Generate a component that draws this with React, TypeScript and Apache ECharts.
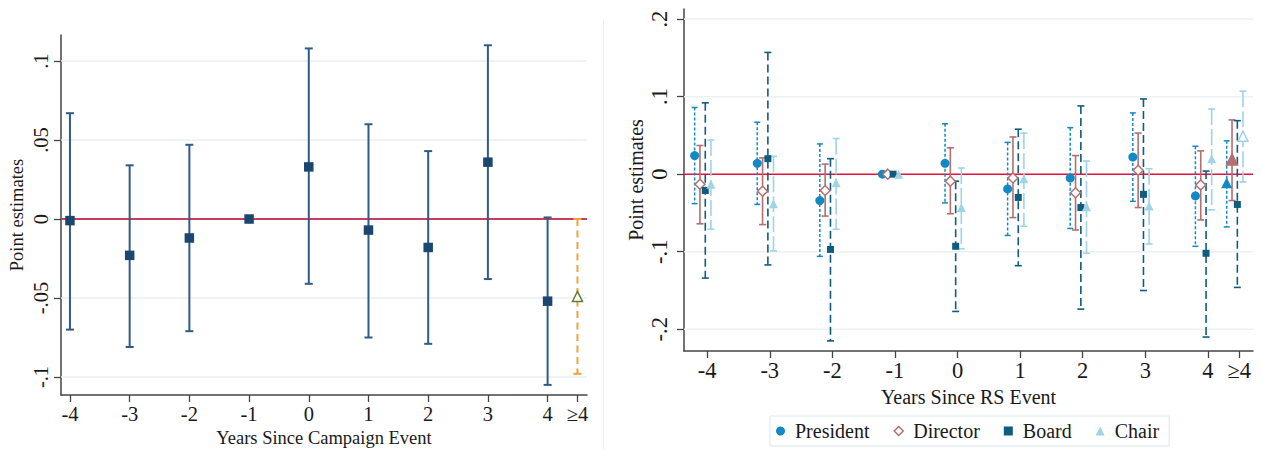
import React, { useEffect, useRef } from "react";
import * as echarts from "echarts";

// ---------- Left panel: Years Since Campaign Event ----------
const leftYears = [-4, -3, -2, -1, 0, 1, 2, 3, 4];
const leftEst = [-0.001, -0.023, -0.012, 0, 0.033, -0.007, -0.018, 0.036, -0.052];
const leftLow = [-0.070, -0.081, -0.071, null, -0.041, -0.075, -0.079, -0.038, -0.105];
const leftHigh = [0.067, 0.034, 0.047, null, 0.108, 0.060, 0.043, 0.110, 0.001];
const leftTailPos = [4.5];
const leftTailEst = [-0.049];
const leftTailLow = [-0.098];
const leftTailHigh = [0.0];
const leftXTicks = [-4, -3, -2, -1, 0, 1, 2, 3, 4, 4.5];
const leftXLabels = ["-4", "-3", "-2", "-1", "0", "1", "2", "3", "4", "≥4"];
const leftYTicks = [-0.1, -0.05, 0, 0.05, 0.1];
const leftYLabels = ["-.1", "-.05", "0", ".05", ".1"];

// ---------- Right panel: Years Since RS Event ----------
const rightPos = [-4, -3, -2, -1, 0, 1, 2, 3, 4, 4.5];
const rightXLabels = ["-4", "-3", "-2", "-1", "0", "1", "2", "3", "4", "≥4"];
const rightYTicks = [-0.2, -0.1, 0, 0.1, 0.2];
const rightYLabels = ["-.2", "-.1", "0", ".1", ".2"];

const presidentEst = [0.024, 0.014, -0.034, 0, 0.014, -0.019, -0.005, 0.022, -0.028, -0.011];
const presidentLow = [-0.038, -0.039, -0.106, null, -0.037, -0.079, -0.070, -0.035, -0.093, -0.068];
const presidentHigh = [0.086, 0.067, 0.039, null, 0.065, 0.041, 0.060, 0.079, 0.036, 0.043];

const directorEst = [-0.013, -0.022, -0.021, 0, -0.009, -0.005, -0.024, 0.005, -0.014, 0.019];
const directorLow = [-0.064, -0.065, -0.054, null, -0.051, -0.056, -0.072, -0.043, -0.059, -0.034];
const directorHigh = [0.037, 0.021, 0.013, null, 0.034, 0.048, 0.024, 0.053, 0.030, 0.070];

const boardEst = [-0.021, 0.020, -0.097, 0, -0.093, -0.030, -0.043, -0.026, -0.102, -0.039];
const boardLow = [-0.134, -0.117, -0.215, null, -0.177, -0.118, -0.174, -0.150, -0.210, -0.146];
const boardHigh = [0.092, 0.157, 0.020, null, -0.009, 0.058, 0.088, 0.097, 0.004, 0.069];

const chairEst = [-0.013, -0.038, -0.011, 0, -0.043, -0.006, -0.042, -0.041, 0.020, 0.049];
const chairLow = [-0.071, -0.099, -0.071, null, -0.096, -0.067, -0.102, -0.090, -0.046, -0.010];
const chairHigh = [0.044, 0.023, 0.046, null, 0.008, 0.053, 0.017, 0.007, 0.084, 0.107];

const FONT = "Liberation Serif";

function labelFor(ticks: number[], labels: string[]) {
  return (v: number) => {
    const i = ticks.findIndex((t) => Math.abs(t - v) < 1e-9);
    return i >= 0 ? labels[i] : "";
  };
}

function errorBars(
  name: string,
  idx: number,
  pos: number[],
  lows: (number | null)[],
  highs: (number | null)[],
  offset: number,
  color: string,
  width: number,
  dash: number[] | null,
  cap: number
) {
  const data: number[][] = [];
  pos.forEach((p, i) => {
    const lo = lows[i];
    const hi = highs[i];
    if (lo !== null && hi !== null) data.push([p + offset, lo, hi]);
  });
  return {
    type: "custom",
    name,
    xAxisIndex: idx,
    yAxisIndex: idx,
    silent: true,
    z: 3,
    data,
    encode: { x: 0, y: [1, 2] },
    renderItem: (_params: any, api: any) => {
      const x = api.value(0);
      const top = api.coord([x, api.value(2)]);
      const bot = api.coord([x, api.value(1)]);
      const st: any = { stroke: color, lineWidth: width, fill: "none" };
      if (dash) st.lineDash = dash;
      return {
        type: "group",
        children: [
          { type: "line", shape: { x1: top[0], y1: top[1], x2: bot[0], y2: bot[1] }, style: st },
          { type: "line", shape: { x1: top[0] - cap, y1: top[1], x2: top[0] + cap, y2: top[1] }, style: { stroke: color, lineWidth: width } },
          { type: "line", shape: { x1: bot[0] - cap, y1: bot[1], x2: bot[0] + cap, y2: bot[1] }, style: { stroke: color, lineWidth: width } },
        ],
      };
    },
  };
}

function hLines(idx: number, values: number[], color: string, width: number, z: number) {
  return {
    type: "custom",
    xAxisIndex: idx,
    yAxisIndex: idx,
    silent: true,
    z,
    data: values.map((v) => [0, v]),
    encode: { x: 0, y: 1 },
    renderItem: (params: any, api: any) => {
      const cs = params.coordSys;
      const y = api.coord([0, api.value(1)])[1];
      return {
        type: "line",
        shape: { x1: cs.x, y1: y, x2: cs.x + cs.width, y2: y },
        style: { stroke: color, lineWidth: width },
      };
    },
  };
}

function xAxisCfg(idx: number, min: number, max: number, ticks: number[], labels: string[], name: string, fontSize: number, nameSize: number, nameGap: number) {
  return {
    type: "value",
    gridIndex: idx,
    min,
    max,
    axisLine: { show: true, onZero: false, lineStyle: { color: "#444", width: 1.5 } },
    axisTick: { show: true, length: 7, customValues: ticks, lineStyle: { color: "#444", width: 1.3 } },
    axisLabel: {
      customValues: ticks,
      formatter: labelFor(ticks, labels),
      fontFamily: FONT,
      fontSize,
      color: "#1a1a1a",
      margin: 8,
      hideOverlap: false,
    },
    splitLine: { show: false },
    name,
    nameLocation: "middle",
    nameGap,
    nameTextStyle: { fontFamily: FONT, fontSize: nameSize, color: "#1a1a1a" },
  };
}

function yAxisCfg(idx: number, min: number, max: number, ticks: number[], labels: string[], fontSize: number, nameSize: number, nameGap: number, margin: number) {
  return {
    type: "value",
    gridIndex: idx,
    min,
    max,
    axisLine: { show: true, onZero: false, lineStyle: { color: "#444", width: 1.5 } },
    axisTick: { show: true, length: 7, customValues: ticks, lineStyle: { color: "#444", width: 1.3 } },
    axisLabel: {
      customValues: ticks,
      formatter: labelFor(ticks, labels),
      rotate: 90,
      fontFamily: FONT,
      fontSize,
      color: "#1a1a1a",
      margin,
      hideOverlap: false,
    },
    splitLine: { show: false },
    name: "Point estimates",
    nameLocation: "middle",
    nameRotate: 90,
    nameGap,
    nameTextStyle: { fontFamily: FONT, fontSize: nameSize, color: "#1a1a1a" },
  };
}

const C_PRES = "#1289c2";
const C_DIR = "#b46f6f";
const C_BOARD = "#0f5c7e";
const C_CHAIR = "#9fd3e6";

export default function App() {
  const ref = useRef<HTMLDivElement>(null);

  useEffect(() => {
    if (!ref.current) return;
    const chart = echarts.init(ref.current, undefined, { renderer: "svg" });

    const offP = -0.2, offD = -0.115, offB = -0.03, offC = 0.06;
    const last = rightPos.length - 1;

    const presData = rightPos.map((p, i) =>
      i === last
        ? { value: [p + offP, presidentEst[i]], symbol: "triangle", symbolSize: 11 }
        : [p + offP, presidentEst[i]]
    );
    const dirData = rightPos.map((p, i) =>
      i === last
        ? { value: [p + offD, directorEst[i]], symbol: "triangle", symbolSize: 11, itemStyle: { color: C_DIR, borderColor: C_DIR } }
        : [p + offD, directorEst[i]]
    );
    const boardData = rightPos.map((p, i) => [p + offB, boardEst[i]]);
    const chairData = rightPos.map((p, i) =>
      i === last
        ? { value: [p + offC, chairEst[i]], symbolSize: 10, itemStyle: { color: "#ffffff", borderColor: C_CHAIR, borderWidth: 1.5 } }
        : [p + offC, chairEst[i]]
    );

    const legendText = { fontFamily: FONT, fontSize: 20, color: "#1a1a1a", padding: [0, 0, 0, 5] };

    const option: any = {
      animation: false,
      backgroundColor: "#ffffff",
      textStyle: { fontFamily: FONT },
      grid: [
        { left: 61, top: 35, width: 526, height: 360, outerBoundsMode: "none" },
        { left: 684, top: 9, width: 569, height: 342, outerBoundsMode: "none" },
      ],
      xAxis: [
        xAxisCfg(0, -4.15, 4.66, leftXTicks, leftXLabels, "Years Since Campaign Event", 20.5, 18.5, 30),
        xAxisCfg(1, -4.37, 4.72, rightPos, rightXLabels, "Years Since RS Event", 22.5, 20, 31),
      ],
      yAxis: [
        yAxisCfg(0, -0.1114, 0.1165, leftYTicks, leftYLabels, 20.5, 18.5, 35, 10),
        yAxisCfg(1, -0.228, 0.213, rightYTicks, rightYLabels, 22.5, 20, 38, 13),
      ],
      legend: {
        left: 770,
        top: 416,
        orient: "horizontal",
        borderColor: "#dce7e9",
        borderWidth: 1,
        padding: [5, 10, 5, 6],
        itemGap: 24,
        itemWidth: 9,
        itemHeight: 9,
        selectedMode: false,
        textStyle: legendText,
        data: [
          { name: "President", icon: "circle", textStyle: legendText },
          { name: "Director", icon: "diamond", textStyle: legendText, itemStyle: { color: "#ffffff", borderColor: C_DIR, borderWidth: 1.5 } },
          { name: "Board", icon: "rect", textStyle: legendText },
          { name: "Chair", icon: "triangle", textStyle: legendText },
        ],
      },
      graphic: [
        { type: "line", shape: { x1: 603.5, y1: 20, x2: 603.5, y2: 450 }, style: { stroke: "#efefef", lineWidth: 1 }, z: 0 },
      ],
      series: [
        // grid lines & reference lines
        hLines(0, leftYTicks, "#e9f1f2", 1.5, 1),
        hLines(1, rightYTicks, "#e9f1f2", 1.5, 1),
        hLines(0, [0], "#c83c5f", 2, 2),
        hLines(1, [0], "#e3143f", 1.6, 2),

        // left panel
        errorBars("CI left", 0, leftYears, leftLow, leftHigh, 0, "#2e5b87", 2, null, 4),
        errorBars("CI left tail", 0, leftTailPos, leftTailLow, leftTailHigh, 0, "#f0a23c", 2, [7, 4.5], 4),
        {
          type: "scatter",
          name: "Estimate",
          xAxisIndex: 0,
          yAxisIndex: 0,
          symbol: "rect",
          symbolSize: 9.5,
          z: 4,
          itemStyle: { color: "#1b4670", opacity: 1 },
          data: leftYears.map((y, i) => [y, leftEst[i]]),
        },
        {
          type: "scatter",
          name: "Estimate tail",
          xAxisIndex: 0,
          yAxisIndex: 0,
          symbol: "triangle",
          symbolSize: 10,
          z: 4,
          itemStyle: { color: "#ffffff", borderColor: "#5f7f2e", borderWidth: 1.5, opacity: 1 },
          data: leftTailPos.map((p, i) => [p, leftTailEst[i]]),
        },

        // right panel error bars
        errorBars("President CI", 1, rightPos, presidentLow, presidentHigh, offP, C_PRES, 1.5, [3, 2], 3),
        errorBars("Director CI", 1, rightPos, directorLow, directorHigh, offD, C_DIR, 1.6, null, 3.5),
        errorBars("Board CI", 1, rightPos, boardLow, boardHigh, offB, C_BOARD, 1.6, [8, 4], 3.5),
        errorBars("Chair CI", 1, rightPos, chairLow, chairHigh, offC, C_CHAIR, 1.6, [16, 4], 3.5),

        // right panel markers
        {
          type: "scatter",
          name: "President",
          xAxisIndex: 1,
          yAxisIndex: 1,
          symbol: "circle",
          symbolSize: 9,
          z: 5,
          itemStyle: { color: C_PRES, opacity: 1 },
          data: presData,
        },
        {
          type: "scatter",
          name: "Director",
          xAxisIndex: 1,
          yAxisIndex: 1,
          symbol: "diamond",
          symbolSize: 10,
          z: 5,
          itemStyle: { color: "#ffffff", borderColor: C_DIR, borderWidth: 1.5, opacity: 1 },
          data: dirData,
        },
        {
          type: "scatter",
          name: "Board",
          xAxisIndex: 1,
          yAxisIndex: 1,
          symbol: "rect",
          symbolSize: 7,
          z: 5,
          itemStyle: { color: C_BOARD, opacity: 1 },
          data: boardData,
        },
        {
          type: "scatter",
          name: "Chair",
          xAxisIndex: 1,
          yAxisIndex: 1,
          symbol: "triangle",
          symbolSize: 9,
          z: 5,
          itemStyle: { color: C_CHAIR, opacity: 1 },
          data: chairData,
        },
      ],
    };

    chart.setOption(option);
    return () => chart.dispose();
  }, []);

  return (
    <div
      ref={ref}
      style={{ position: "fixed", left: 0, top: 0, width: 1262, height: 450, background: "#fff" }}
    />
  );
}
